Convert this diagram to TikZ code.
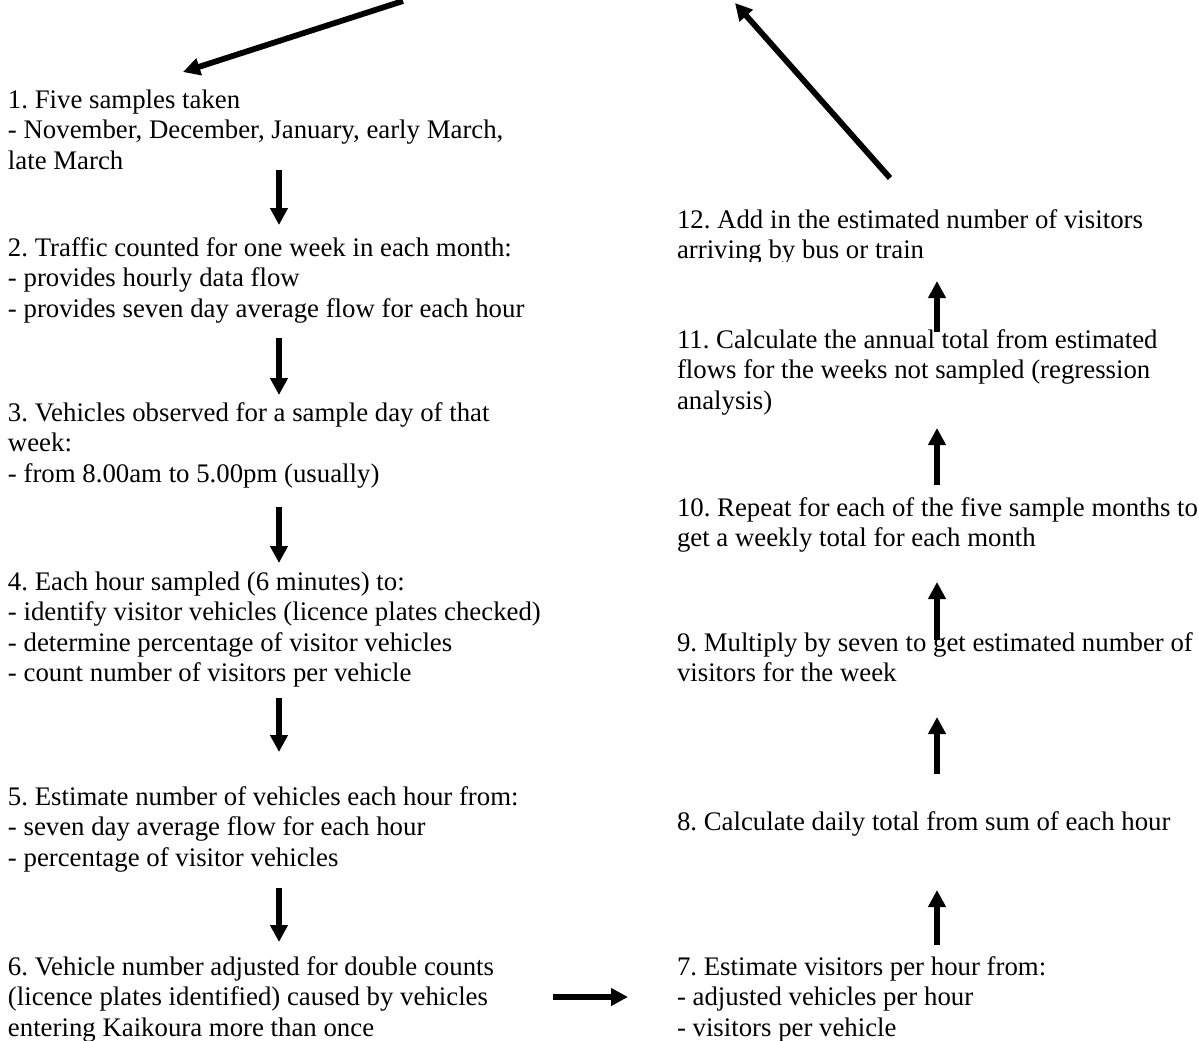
\documentclass[tikz,border=0pt]{standalone}
\usepackage{fontspec}
\setmainfont{Liberation Serif}
\usetikzlibrary{arrows.meta}
\newcommand\topstrut{\rule{0pt}{11pt}}
\frenchspacing
\begin{document}
\begin{tikzpicture}[x=0.5pt,y=-0.5pt,
  stepbox/.style={anchor=north west, inner sep=0pt, outer sep=0pt, align=left,
    font=\fontsize{13.4pt}{15.25pt}\selectfont},
  flow/.style={line width=2.9pt, -{Triangle[width=8.5pt,length=8.5pt]}}]
\useasboundingbox (0,0) rectangle (1199,1040);

% left column: steps 1 to 6 (first baseline = top + 22)
\node[stepbox] (s1) at (8,86) {\topstrut 1. Five samples taken\\- November, December, January, early March,\\late March};
\node[stepbox] (s2) at (8,234) {\topstrut 2. Traffic counted for one week in each month:\\- provides hourly data flow\\- provides seven day average flow for each hour};
\node[stepbox] (s3) at (8,399) {\topstrut 3. Vehicles observed for a sample day of that\\week:\\- from 8.00am to 5.00pm (usually)};
\node[stepbox] (s4) at (8,568) {\topstrut 4. Each hour sampled (6 minutes) to:\\- identify visitor vehicles (licence plates checked)\\- determine percentage of visitor vehicles\\- count number of visitors per vehicle};
\node[stepbox] (s5) at (8,783) {\topstrut 5. Estimate number of vehicles each hour from:\\- seven day average flow for each hour\\- percentage of visitor vehicles};
\node[stepbox] (s6) at (8,953) {\topstrut 6. Vehicle number adjusted for double counts\\(licence plates identified) caused by vehicles\\entering Kaikoura more than once};

% right column: steps 7 to 12
\node[stepbox] (s7) at (677,953) {\topstrut 7. Estimate visitors per hour from:\\- adjusted vehicles per hour\\- visitors per vehicle};
\node[stepbox] (s8) at (677,808) {\topstrut 8. Calculate daily total from sum of each hour};
\node[stepbox] (s9) at (677,629) {\topstrut 9. Multiply by seven to get estimated number of\\visitors for the week};
\node[stepbox] (s10) at (677,494) {\topstrut 10. Repeat for each of the five sample months to\\get a weekly total for each month};
\node[stepbox] (s11) at (677,326) {\topstrut 11. Calculate the annual total from estimated\\flows for the weeks not sampled (regression\\analysis)};
\begin{scope}
  % the text frame of step 12 cuts off its last line's descenders
  \clip (640,180) rectangle (1199,261);
  \node[stepbox] (s12) at (677,206) {\topstrut 12. Add in the estimated number of visitors\\arriving by bus or train};
\end{scope}

% arrow end points
\coordinate (d1a) at (279,170); \coordinate (d1b) at (279,225);
\coordinate (d2a) at (279,338); \coordinate (d2b) at (279,395);
\coordinate (d3a) at (279,507); \coordinate (d3b) at (279,563);
\coordinate (d4a) at (279,698); \coordinate (d4b) at (279,752);
\coordinate (d5a) at (279,888); \coordinate (d5b) at (279,942);
\coordinate (h6a) at (553,997); \coordinate (h6b) at (628,997);
\coordinate (u7a) at (937,945); \coordinate (u7b) at (937,890);
\coordinate (u8a) at (937,774); \coordinate (u8b) at (937,717);
\coordinate (u9a) at (937,640); \coordinate (u9b) at (937,582);
\coordinate (u10a) at (937,485); \coordinate (u10b) at (937,428);
\coordinate (u11a) at (937,332); \coordinate (u11b) at (937,281);
\coordinate (r12a) at (890,178); \coordinate (r12b) at (735,3);
\coordinate (l0a) at (403,1); \coordinate (l0b) at (183,72);

\draw[flow] (d1a) -- (d1b);
\draw[flow] (d2a) -- (d2b);
\draw[flow] (d3a) -- (d3b);
\draw[flow] (d4a) -- (d4b);
\draw[flow] (d5a) -- (d5b);
\draw[flow] (h6a) -- (h6b);
\draw[flow] (u7a) -- (u7b);
\draw[flow] (u8a) -- (u8b);
\draw[flow] (u9a) -- (u9b);
\draw[flow] (u10a) -- (u10b);
\draw[flow] (u11a) -- (u11b);
\draw[flow] (r12a) -- (r12b);
\draw[flow] (l0a) -- (l0b);
\end{tikzpicture}
\end{document}
